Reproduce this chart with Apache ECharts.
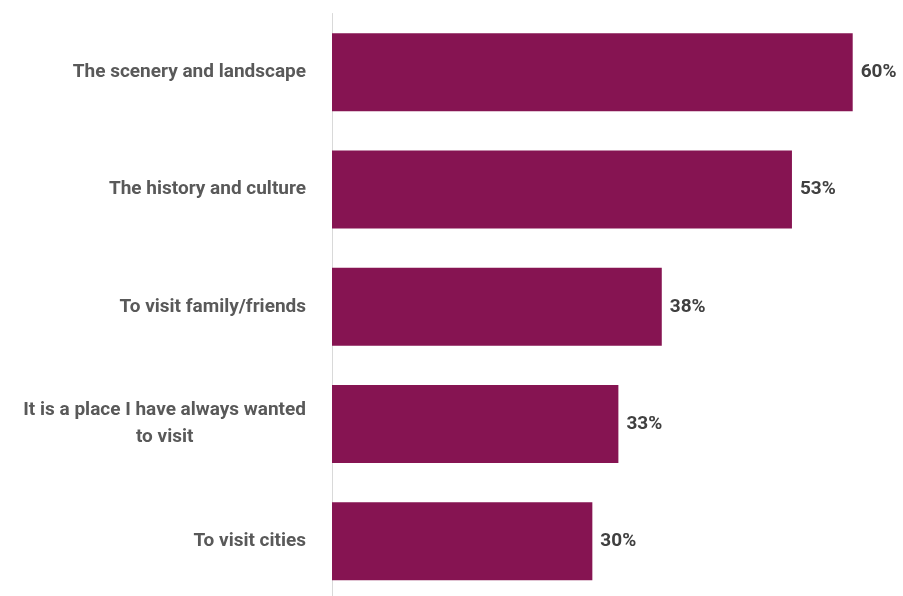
<!DOCTYPE html>
<html>
<head>
<meta charset="utf-8">
<style>
  html, body { margin: 0; padding: 0; background: #ffffff; }
  #chart { width: 903px; height: 596px; }
</style>
<script src="https://cdn.jsdelivr.net/npm/echarts@6/dist/echarts.min.js"></script>
</head>
<body>
<div id="chart"></div>
<script>
// Reasons for visiting, share of respondents (%)
const categories = [
  'The scenery and landscape',
  'The history and culture',
  'To visit family/friends',
  'It is a place I have always wanted\nto visit',
  'To visit cities'
];
const values = [60, 53, 38, 33, 30];

const chart = echarts.init(document.getElementById('chart'), null, { renderer: 'canvas' });

chart.setOption({
  animation: false,
  backgroundColor: '#ffffff',
  grid: {
    left: 332, top: 13.5, width: 520.7, height: 586.5,
    containLabel: false,
    outerBoundsMode: 'none'
  },
  xAxis: {
    type: 'value',
    min: 0,
    max: 60,
    show: false
  },
  yAxis: {
    type: 'category',
    inverse: true,
    data: categories,
    axisLine: { show: true, lineStyle: { color: '#d9d9d9', width: 1 } },
    axisTick: { show: false },
    splitLine: { show: false },
    axisLabel: {
      margin: 26,
      align: 'right',
      formatter: function (v) {
        return v.split('\n').map(function (s) { return '{c|' + s + '}'; }).join('\n');
      },
      rich: {
        c: {
          align: 'center',
          fontFamily: 'Roboto',
          fontWeight: 'bold',
          fontSize: 19,
          lineHeight: 27,
          color: '#595959'
        }
      }
    }
  },
  series: [{
    type: 'bar',
    data: values,
    barWidth: 78,
    itemStyle: { color: '#861452' },
    label: {
      show: true,
      position: 'right',
      distance: 8,
      formatter: '{c}%',
      fontFamily: 'Roboto',
      fontWeight: 'bold',
      fontSize: 19,
      color: '#404040'
    }
  }]
});
</script>
</body>
</html>
